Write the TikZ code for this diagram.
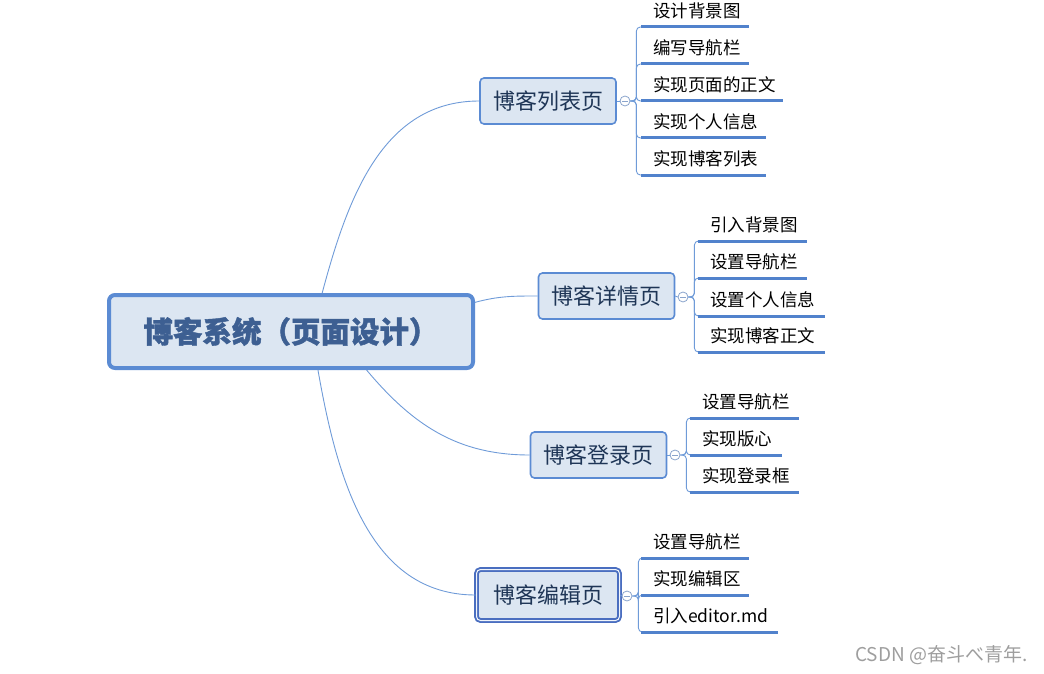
\documentclass[tikz,border=0pt]{standalone}
\usepackage{fontspec}
\setmainfont{Noto Sans CJK SC}[BoldFeatures={FakeBold=1.5}]
\usetikzlibrary{arrows.meta,positioning}
\definecolor{mblue}{HTML}{5B8BD3}\definecolor{lblue}{HTML}{6F9BD8}\definecolor{ublue}{HTML}{5182CC}
\definecolor{mfill}{HTML}{DCE6F2}\definecolor{rtext}{HTML}{3D5F92}\definecolor{btext}{HTML}{1E3556}
\definecolor{dblue}{HTML}{4A6EC0}\definecolor{cgray}{HTML}{8AA4CC}
\tikzset{root/.style={draw=mblue,line width=4pt,fill=mfill,rounded corners=6pt,minimum width=364pt,minimum height=73pt,text=rtext,font=\fontsize{29.5}{31}\selectfont\bfseries},
br/.style={draw=mblue,line width=1.6pt,fill=mfill,rounded corners=4pt,minimum width=136pt,minimum height=46pt,text=btext,font=\fontsize{22}{24}\selectfont},
brd/.style={br,draw=dblue,double=mfill!40!white,double distance=1pt,line width=1.9pt,minimum width=143pt,minimum height=51pt},
lf/.style={anchor=south west,inner xsep=12pt,inner ysep=9pt,text depth=0pt,font=\fontsize{17.5}{19}\selectfont},
cc/.style={circle,draw=cgray,fill=white,line width=0.8pt,minimum size=10pt,inner sep=0pt,path picture={\draw[cgray,line width=0.8pt]([xshift=2pt]path picture bounding box.west)--([xshift=-2pt]path picture bounding box.east);}},
ln/.style={lblue,line width=0.9pt},ul/.style={ublue,line width=3pt},bk/.style={ln,rounded corners=4pt}}

\begin{document}
\begin{tikzpicture}[x=1pt,y=-1pt]
\useasboundingbox(0,0)rectangle(1044,674);
\node[root](R)at(291,331.5){博客系统（页面设计）};
\node[br](B1)at(548,101){博客列表页};\node[br](B2)at(606.5,296){博客详情页};
\node[br](B3)at(598.5,455){博客登录页};\node[brd](B4)at(548,595){博客编辑页};
\node[cc](C1)at(625,101){};\node[cc](C2)at(683,297){};\node[cc](C3)at(675,455){};\node[cc](C4)at(627,596){};
% leaves
\node[lf](L11)at(641,27){设计背景图};\node[lf](L12)at(641,64){编写导航栏};\node[lf](L13)at(641,101){实现页面的正文};
\node[lf](L14)at(641,138){实现个人信息};\node[lf](L15)at(641,175){实现博客列表};
\node[lf](L21)at(698,241){引入背景图};\node[lf](L22)at(698,278){设置导航栏};\node[lf](L23)at(698,316){设置个人信息};\node[lf](L24)at(698,352){实现博客正文};
\node[lf](L31)at(690,418){设置导航栏};\node[lf](L32)at(690,455){实现版心};\node[lf](L33)at(690,492){实现登录框};
\node[lf](L41)at(641,558){设置导航栏};\node[lf](L42)at(641,595){实现编辑区};\node[lf](L43)at(641,632){引入editor.md};
\node[text=black!38,anchor=east,font=\fontsize{19}{21}\selectfont](WM)at(1031,655){CSDN @奋斗べ青年.};
% connectors
\draw[ln](R.51)to[out=75,in=180](B1.west);\draw[ln](R.9)to[out=15,in=180](B2.west);
\draw[ln](R.-27)to[out=-50,in=180](B3.west);\draw[ln](R.-55)to[out=-80,in=180](B4.west);
\foreach\b/\c in{B1/C1,B2/C2,B3/C3,B4/C4}\draw[ln](\b.east)--(\c.west);
\foreach\c/\l in{C1/L11,C1/L12,C1/L13,C1/L14,C1/L15,C2/L21,C2/L22,C2/L23,C2/L24,C3/L31,C3/L32,C3/L33,C4/L41,C4/L42,C4/L43}\draw[bk](\c.east)--++(6,0)|-(\l.south west);
\foreach\l/\w in{L11/108,L12/108,L13/142,L14/125,L15/125,L21/109,L22/109,L23/127,L24/127,L31/109,L32/92,L33/109,L41/108,L42/108,L43/137}\draw[ul](\l.south west)--++(\w,0);
\end{tikzpicture}
\end{document}
